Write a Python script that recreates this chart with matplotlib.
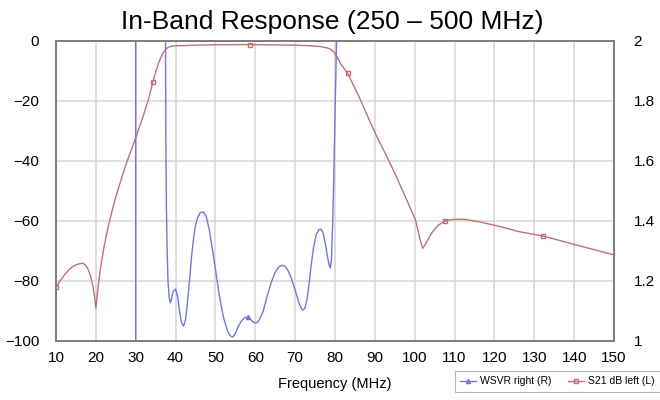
import numpy as np
import matplotlib
matplotlib.use("Agg")
import matplotlib.pyplot as plt

plt.rcParams["font.family"] = ["Liberation Sans", "DejaVu Sans"]

# S21 (dB, left axis)
s21_freq = [10, 11, 12, 13, 14, 15, 16, 16.8, 17.5, 18.2, 18.8, 19.3, 19.7, 20.0, 20.3,
            20.7, 21.2, 22, 23, 24, 25, 26.5, 28, 30, 32, 33.3, 34.3, 35.2, 36, 36.6,
            37.2, 37.8, 38.5, 39.3, 40.2, 45, 50, 58.8, 65, 70.4, 74, 76.5, 78, 79, 79.8,
            80.6, 81.5, 83.2, 86, 88, 90.5, 93, 95.5, 98, 100.2, 100.8, 101.4, 102.0,
            102.6, 103.4, 104.5, 106, 107.7, 109.5, 112.3, 116, 121.6, 126, 132.2, 140, 150]
s21_db = [-82.1, -80, -78.2, -76.6, -75.4, -74.6, -74.2, -74.1, -74.8, -76.5, -79, -82, -85.5,
          -89.1, -85.5, -80.5, -75.5, -69, -62.5, -57, -52, -45.5, -39.5, -32.3, -24.5, -19,
          -13.6, -9.5, -6.5, -4.6, -3.3, -2.4, -1.9, -1.7, -1.6, -1.4, -1.25, -1.2, -1.3,
          -1.4, -1.6, -1.9, -2.3, -2.8, -3.8, -5.5, -7.8, -10.8, -18.5, -24.5, -31.9, -38.5,
          -45.5, -53, -59.7, -63, -66.5, -69.1, -68, -66, -63.5, -61.3, -60, -59.5, -59.4,
          -60.2, -61.9, -63.5, -65, -67.8, -71.3]
s21_marks = [10, 34.3, 58.8, 83.2, 107.7, 132.2]

# WSVR (right axis)
wsvr_freq = [30.0, 30.0, 37.4, 37.45, 37.55, 37.7, 37.9, 38.1, 38.4, 38.7, 39.0, 39.4, 40.0,
             40.5, 41.0, 41.5, 42.0, 42.5, 43.0, 43.5, 44.0, 44.5, 45.0, 45.5, 46.2, 47.0,
             47.7, 48.4, 49.2, 50.0, 51.0, 52.0, 53.0, 53.7, 54.3, 55.0, 55.8, 56.6, 57.3,
             58.1, 58.6, 59.3, 59.9, 60.4, 61.0, 62.0, 63.0, 64.0, 65.0, 66.0, 66.8, 67.4,
             68.2, 69.0, 70.0, 71.0, 71.6, 72.0, 72.5, 73.0, 73.5, 74.0, 74.6, 75.3, 76.0,
             76.5, 77.0, 77.5, 78.0, 78.5, 78.8, 79.1, 79.4, 79.7, 80.0, 80.4, 80.8]
wsvr = [0.9, 2.5, 2.5, 2.2, 1.7, 1.45, 1.3, 1.2, 1.145, 1.127, 1.14, 1.165, 1.173,
        1.15, 1.1, 1.06, 1.05, 1.07, 1.13, 1.2, 1.28, 1.34, 1.385, 1.41, 1.428, 1.43,
        1.415, 1.375, 1.31, 1.24, 1.15, 1.08, 1.035, 1.018, 1.013, 1.025, 1.05, 1.068, 1.078,
        1.08, 1.076, 1.065, 1.06, 1.06, 1.07, 1.1, 1.15, 1.195, 1.23, 1.248, 1.252, 1.25,
        1.235, 1.21, 1.17, 1.125, 1.108, 1.103, 1.11, 1.14, 1.19, 1.25, 1.31, 1.355, 1.372,
        1.373, 1.36, 1.33, 1.29, 1.255, 1.243, 1.27, 1.38, 1.55, 1.75, 2.0, 2.3]
wsvr_marks = [58.1]

red = "#c07272"
blue = "#7474e6"

fig = plt.figure(figsize=(6.6, 4.0), dpi=100)
ax = fig.add_axes([0.0848, 0.1475, 0.8455, 0.75])
ax2 = ax.twinx()

ax.set_xlim(10, 150)
ax.set_ylim(-100, 0)
ax2.set_ylim(1, 2)
ax.set_xticks(np.arange(10, 151, 10))
ax.set_yticks(np.arange(-100, 1, 20))
ax2.set_yticks([1, 1.2, 1.4, 1.6, 1.8, 2])
ax2.set_yticklabels(["1", "1.2", "1.4", "1.6", "1.8", "2"])

ax.grid(True, color="#d9d9d9", linewidth=1.2)
ax.set_axisbelow(True)
for a in (ax, ax2):
    for sp in a.spines.values():
        sp.set_color("#808080")
        sp.set_linewidth(1.4)
ax.tick_params(axis="both", length=0, labelsize=11)
ax.tick_params(axis="y", pad=12)
ax.tick_params(axis="x", pad=7)
ax2.tick_params(axis="y", length=0, labelsize=11, pad=14)

s21_idx = [s21_freq.index(f) for f in s21_marks]
wsvr_idx = [wsvr_freq.index(f) for f in wsvr_marks]

l1, = ax2.plot(wsvr_freq, wsvr, color=blue, linewidth=1.0, marker="^", markersize=3,
               markevery=wsvr_idx, label="WSVR right (R)")
l2, = ax.plot(s21_freq, s21_db, color=red, linewidth=1.0, marker="s", markersize=3.5,
              markerfacecolor="none", markevery=s21_idx, label="S21 dB left (L)")
ax2.set_zorder(ax.get_zorder() + 1)

ax.set_xlabel("Frequency (MHz)", fontsize=10.5, labelpad=9)
fig.text(0.503, 0.945, "In-Band Response (250 \u2013 500 MHz)", ha="center", va="center",
         fontsize=19)

leg = fig.legend(handles=[l1, l2], loc="upper left", bbox_to_anchor=(0.689, 0.072),
                 ncol=2, fontsize=7.5, frameon=True, fancybox=False, borderpad=0.5,
                 handlelength=1.5, handletextpad=0.4, columnspacing=1.6, borderaxespad=0)
leg.get_frame().set_edgecolor("#a0a0a0")
leg.get_frame().set_linewidth(0.8)

fig.savefig("out.png", dpi=100)
